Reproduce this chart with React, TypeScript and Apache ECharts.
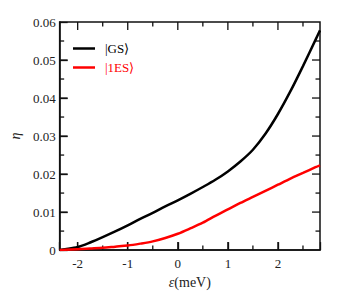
import React, { useEffect, useRef } from "react";
import * as echarts from "echarts";

const epsilon = [-2.36, -2.25, -2, -1.75, -1.5, -1.25, -1, -0.75, -0.5, -0.25, 0, 0.25, 0.5, 0.75, 1, 1.25, 1.5, 1.75, 2, 2.25, 2.5, 2.75, 2.84];
const gsValues = [0, 0.0002, 0.0008, 0.002, 0.0034, 0.0049, 0.0065, 0.0082, 0.0098, 0.0115, 0.0131, 0.0148, 0.0166, 0.0185, 0.0207, 0.0233, 0.0264, 0.0306, 0.0358, 0.0418, 0.0484, 0.0553, 0.0578];
const es1Values = [0, 0.0001, 0.0002, 0.0004, 0.0006, 0.0009, 0.0012, 0.0017, 0.0023, 0.0032, 0.0043, 0.0057, 0.0072, 0.009, 0.0107, 0.0124, 0.014, 0.0156, 0.0172, 0.0188, 0.0203, 0.0218, 0.0223];
const seriesNames = ["|GS⟩", "|1ES⟩"];
const xMajorTicks = [-2, -1, 0, 1, 2];
const xMinorTicks = [-1.5, -0.5, 0.5, 1.5, 2.5];
const yMajorTicks = [0.01, 0.02, 0.03, 0.04, 0.05];
const yMinorTicks = [0.005, 0.015, 0.025, 0.035, 0.045, 0.055];
const X_MIN = -2.36;
const X_MAX = 2.84;
const Y_MIN = 0;
const Y_MAX = 0.06;

const FONT = "serif";
const AXIS_COLOR = "#111";

export default function App() {
  const ref = useRef<HTMLDivElement>(null);
  useEffect(() => {
    if (!ref.current) return;
    const chart = echarts.init(ref.current, null, { renderer: "svg" });

    // tick items: [x, y, side, major] side 0 bottom, 1 top, 2 left, 3 right
    const tickData: number[][] = [];
    xMajorTicks.forEach((v) => { tickData.push([v, Y_MIN, 0, 1]); tickData.push([v, Y_MAX, 1, 1]); });
    xMinorTicks.forEach((v) => { tickData.push([v, Y_MIN, 0, 0]); tickData.push([v, Y_MAX, 1, 0]); });
    yMajorTicks.forEach((v) => { tickData.push([X_MIN, v, 2, 1]); tickData.push([X_MAX, v, 3, 1]); });
    yMinorTicks.forEach((v) => { tickData.push([X_MIN, v, 2, 0]); tickData.push([X_MAX, v, 3, 0]); });
    const TW = 1.3;

    chart.setOption({
      animation: false,
      backgroundColor: "#fff",
      textStyle: { fontFamily: FONT },
      grid: {
        left: 49,
        top: 22,
        right: 33,
        bottom: 40,
        show: true,
        borderColor: AXIS_COLOR,
        borderWidth: 1.5,
      },
      legend: {
        show: true,
        orient: "vertical",
        left: 73,
        top: 42,
        padding: 0,
        icon: "rect",
        itemWidth: 22,
        itemHeight: 2.5,
        itemGap: 6,
        textStyle: { fontFamily: FONT, fontSize: 13, padding: [0, 0, 0, 5] },
        data: [
          { name: seriesNames[0], textStyle: { color: "#000", fontFamily: FONT, fontSize: 13 } },
          { name: seriesNames[1], textStyle: { color: "#ff0000", fontFamily: FONT, fontSize: 13 } },
        ],
      },
      xAxis: {
        type: "value",
        min: X_MIN,
        max: X_MAX,
        axisLine: { show: true, onZero: false, lineStyle: { color: AXIS_COLOR, width: 1.5 } },
        axisTick: { show: true, inside: true, length: 8, lineStyle: { color: AXIS_COLOR, width: 1.3 } },
        axisLabel: {
          show: true,
          customValues: xMajorTicks,
          margin: 7,
          color: "#222",
          fontFamily: FONT,
          fontSize: 13,
        },
        splitLine: { show: false },
        name: "{i|ε}(meV)",
        nameLocation: "middle",
        nameGap: 23,
        nameTextStyle: {
          color: "#222",
          fontFamily: FONT,
          fontSize: 14,
          rich: { i: { fontFamily: FONT, fontSize: 14, fontStyle: "italic", color: "#222" } },
        },
      },
      yAxis: {
        type: "value",
        min: Y_MIN,
        max: Y_MAX,
        interval: 0.01,
        axisLine: { show: true, onZero: false, lineStyle: { color: AXIS_COLOR, width: 1.5 } },
        axisTick: { show: true, inside: true, length: 8, lineStyle: { color: AXIS_COLOR, width: 1.3 } },
        axisLabel: {
          show: true,
          margin: 4,
          color: "#222",
          fontFamily: FONT,
          fontSize: 13,
          formatter: (v: number) => (v === 0 ? "0" : v.toFixed(2)),
        },
        splitLine: { show: false },
        name: "η",
        nameLocation: "middle",
        nameGap: 36,
        nameTextStyle: { color: "#222", fontFamily: FONT, fontSize: 14, fontStyle: "italic" },
      },
      series: [
        {
          name: seriesNames[0],
          type: "line",
          data: epsilon.map((x, i) => [x, gsValues[i]]),
          showSymbol: false,
          symbol: "none",
          smooth: 0.3,
          lineStyle: { color: "#000", width: 2.5 },
          itemStyle: { color: "#000" },
        },
        {
          name: seriesNames[1],
          type: "line",
          data: epsilon.map((x, i) => [x, es1Values[i]]),
          showSymbol: false,
          symbol: "none",
          smooth: 0.3,
          lineStyle: { color: "#ff0000", width: 2.5 },
          itemStyle: { color: "#ff0000" },
        },
        {
          name: "ticks",
          type: "custom",
          silent: true,
          data: tickData,
          renderItem: (params: any, api: any) => {
            const p = api.coord([api.value(0), api.value(1)]);
            const side = api.value(2);
            const len = api.value(3) === 1 ? 8 : 4.5;
            let shape;
            if (side === 0) shape = { x: p[0] - TW / 2, y: p[1] - len, width: TW, height: len };
            else if (side === 1) shape = { x: p[0] - TW / 2, y: p[1], width: TW, height: len };
            else if (side === 2) shape = { x: p[0], y: p[1] - TW / 2, width: len, height: TW };
            else shape = { x: p[0] - len, y: p[1] - TW / 2, width: len, height: TW };
            return { type: "rect", shape, style: { fill: AXIS_COLOR } };
          },
        },
      ],
    });
    return () => chart.dispose();
  }, []);
  return <div ref={ref} style={{ width: 353, height: 294, position: "absolute", left: 0, top: 0 }} />;
}
